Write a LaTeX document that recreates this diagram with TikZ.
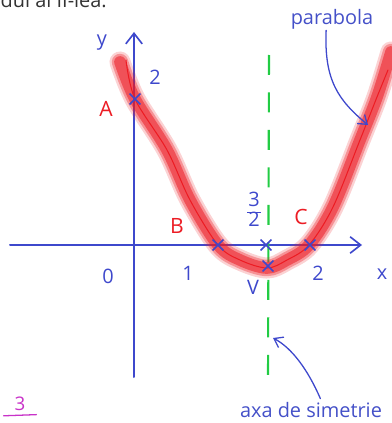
\documentclass[tikz,border=0pt]{standalone}
\usepackage{fontspec}
\setmainfont{Open Sans}
\setsansfont{Open Sans}
\usetikzlibrary{arrows.meta, positioning, shapes.misc}
\definecolor{penBlue}{RGB}{62, 72, 204}
\definecolor{penRed}{RGB}{236, 28, 36}
\definecolor{penGreen}{RGB}{34, 204, 68}
\definecolor{penMagenta}{RGB}{200, 50, 200}
\definecolor{textBlue}{RGB}{68, 80, 200}

\begin{document}
\begin{tikzpicture}[
    x=0.03cm, y=-0.03cm,
    axisLine/.style={draw=penBlue, line width=1.7pt, line cap=round, -{Straight Barb[length=9pt, width=14pt, line width=1.4pt]}},
    penArrow/.style={draw=penBlue, line width=1.1pt, line cap=round, -{Straight Barb[length=7pt, width=10pt, line width=1.1pt]}},
    xmark/.style={cross out, draw=penBlue, line width=1.3pt, minimum size=8pt, inner sep=0pt},
    penLabel/.style={text=penBlue, font=\fontsize{17}{18}\selectfont, inner sep=1pt},
    redLabel/.style={text=penRed, font=\fontsize{18}{19}\selectfont, inner sep=1pt},
    noteText/.style={text=textBlue, font=\fontsize{17}{18}\selectfont, inner sep=1pt}
  ]
    \useasboundingbox (0,0) rectangle (391,423);

    % Heading cut by the top edge
    \node[anchor=base east, font=\fontsize{17}{18}\selectfont, text=black!80, inner sep=0pt] (head) at (107,8) {de gradul al II-lea.};

    % Axes
    \coordinate (xFrom) at (10,245);
    \coordinate (xTo) at (362,245);
    \coordinate (yFrom) at (134,377);
    \coordinate (yTo) at (134,32);
    \draw[axisLine] (xFrom) -- (xTo);
    \draw[axisLine] (yFrom) -- (yTo);

    % Axis of symmetry
    \coordinate (symTop) at (269,55);
    \coordinate (symBot) at (268,380);
    \draw[draw=penGreen, line width=1.8pt, dash pattern=on 17pt off 15pt] (symTop) -- (symBot);

    % Parabola: soft glow, then the pen stroke
    \foreach \w/\o in {18pt/0.2, 14pt/0.35, 10pt/0.55} {
      \draw[penRed, opacity=\o, line width=\w, line cap=round, line join=round]
        plot[smooth, tension=0.55] coordinates {(120,62) (135,99) (167,150) (190,200) (218,245) (240,260) (267,268) (287,260) (309,245) (333,207) (360,140) (377,97) (391,52)};
    }
    \draw[penRed, line width=0.9pt, line cap=round]
      plot[smooth, tension=0.55] coordinates {(126,60) (135,99) (167,150) (190,200) (218,245) (240,260) (267,268) (287,260) (309,245) (333,207) (360,140) (377,97) (388,70)};

    % Marked points
    \node[xmark] (ptA) at (135,99) {};
    \node[xmark] (ptB) at (218,245) {};
    \node[xmark] (ptM) at (266,245) {};
    \node[xmark] (ptC) at (310,245) {};
    \node[xmark] (ptV) at (268,266) {};

    % Axis labels
    \node[penLabel] (lblY) at (102,43) {y};
    \node[penLabel] (lblX) at (382,274) {x};
    \node[penLabel] (lblO) at (108,276) {0};
    \node[penLabel] (lblOne) at (188,273) {1};
    \node[penLabel] (lblTwo) at (318,273) {2};
    \node[penLabel] (lblYTwo) at (155,77) {2};
    \node[penLabel] (lblV) at (253,287) {V};
    \node[penLabel, inner sep=0pt] (lblHalf) at (254,212)
      {\setlength{\tabcolsep}{1pt}\renewcommand{\arraystretch}{0.8}\begin{tabular}{c}3\\\hline 2\end{tabular}};

    % Point names
    \node[redLabel] (lblA) at (106,109) {A};
    \node[redLabel] (lblB) at (177,226) {B};
    \node[redLabel] (lblC) at (301,217) {C};

    % Notes with arrows
    \node[noteText] (notePar) at (332,19) {parabola};
    \coordinate (onCurve) at (368,125);
    \draw[penArrow] ([xshift=-5pt]notePar.south) .. controls (324,80) and (338,100) .. (onCurve);

    \node[noteText] (noteSym) at (311,410) {axa de simetrie};
    \coordinate (onSym) at (273,338);
    \draw[penArrow] ([xshift=8pt,yshift=2pt]noteSym.north) .. controls (308,370) and (292,348) .. (onSym);

    % Page number
    \node[text=penMagenta, font=\fontsize{16}{17}\selectfont, inner sep=0pt] (pageNo) at (20,404) {3};
    \draw[draw=penMagenta, line width=1.1pt, line cap=round] ([xshift=-14pt,yshift=-4pt]pageNo.south) -- ([xshift=14pt,yshift=-3pt]pageNo.south);
  \end{tikzpicture}
\end{document}
